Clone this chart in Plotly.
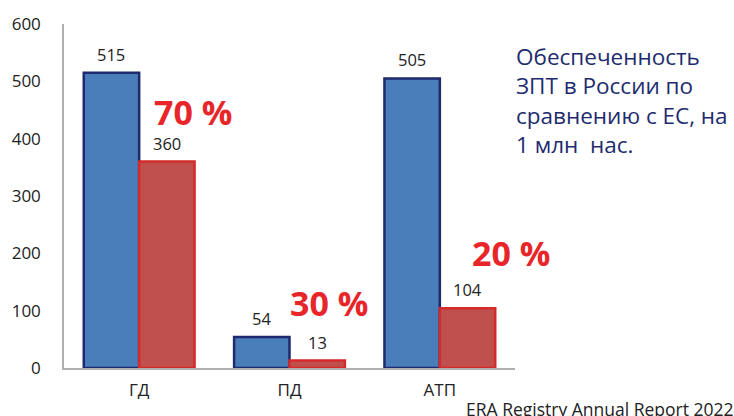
import plotly.graph_objects as go

categories = ["ГД", "ПД", "АТП"]
eu_values = [515, 54, 505]
ru_values = [360, 13, 104]
pct_labels = ["70 %", "30 %", "20 %"]
pct_y = [446, 114, 200]
pct_x = [0.285, 0.588, 0.991]
y_ticks = [0, 100, 200, 300, 400, 500, 600]
side_text = "Обеспеченность<br>ЗПТ в России по<br>сравнению с ЕС, на<br>1 млн  нас."
source_text = "ERA Registry Annual Report 2022"

FONT = "Open Sans"

fig = go.Figure()
fig.add_trace(go.Bar(
    x=categories, y=eu_values, name="ЕС",
    marker=dict(color="#4a7ebb", line=dict(color="#1f2a6e", width=2.5)),
))
fig.add_trace(go.Bar(
    x=categories, y=ru_values, name="Россия",
    marker=dict(color="#c0504d", line=dict(color="#d42a2a", width=2.5)),
))

annotations = []
# value labels above bars
for vals, shift in ((eu_values, -28), (ru_values, 28)):
    for cat, v in zip(categories, vals):
        annotations.append(dict(
            text=str(v), x=cat, y=v, xref="x", yref="y", showarrow=False,
            xanchor="center", yanchor="bottom", xshift=shift, yshift=5,
            font=dict(size=16.5, color="#222222", family=FONT),
        ))
for lbl, xx, yy in zip(pct_labels, pct_x, pct_y):
    annotations.append(dict(
        text=lbl, x=xx, y=yy, xref="paper", yref="y", showarrow=False,
        font=dict(size=34, color="#e8262a", family=FONT, weight="bold"),
        xanchor="center", yanchor="middle",
    ))
annotations.append(dict(
    text=side_text, x=1.0, y=0.92, xref="paper", yref="paper", showarrow=False,
    xanchor="left", yanchor="top", xshift=-1, yshift=13,
    font=dict(size=22.5, color="#1e2b6e", family=FONT), align="left",
))
annotations.append(dict(
    text=source_text, x=1.0, y=0, xref="paper", yref="paper", showarrow=False,
    xanchor="left", yanchor="top", xshift=-51, yshift=-27,
    font=dict(size=17.5, color="#222222", family=FONT), align="left",
))

fig.update_layout(
    width=734, height=416,
    margin=dict(l=59, r=219, t=20, b=48),
    paper_bgcolor="white", plot_bgcolor="white",
    barmode="group", bargap=0.263, bargroupgap=0,
    showlegend=False,
    font=dict(family=FONT, color="#222222"),
    annotations=annotations,
    xaxis=dict(
        showline=True, linecolor="#b0b0b0", linewidth=1.5,
        ticks="", tickfont=dict(size=17, color="#222222", family=FONT),
        ticklabelstandoff=6,
    ),
    yaxis=dict(
        range=[0, 600], tickvals=y_ticks, showgrid=False, zeroline=False,
        showline=True, linecolor="#b0b0b0", linewidth=1.5,
        ticks="", tickfont=dict(size=17, color="#222222", family=FONT),
        ticklabelstandoff=18,
    ),
)

fig.write_html("out.html")
